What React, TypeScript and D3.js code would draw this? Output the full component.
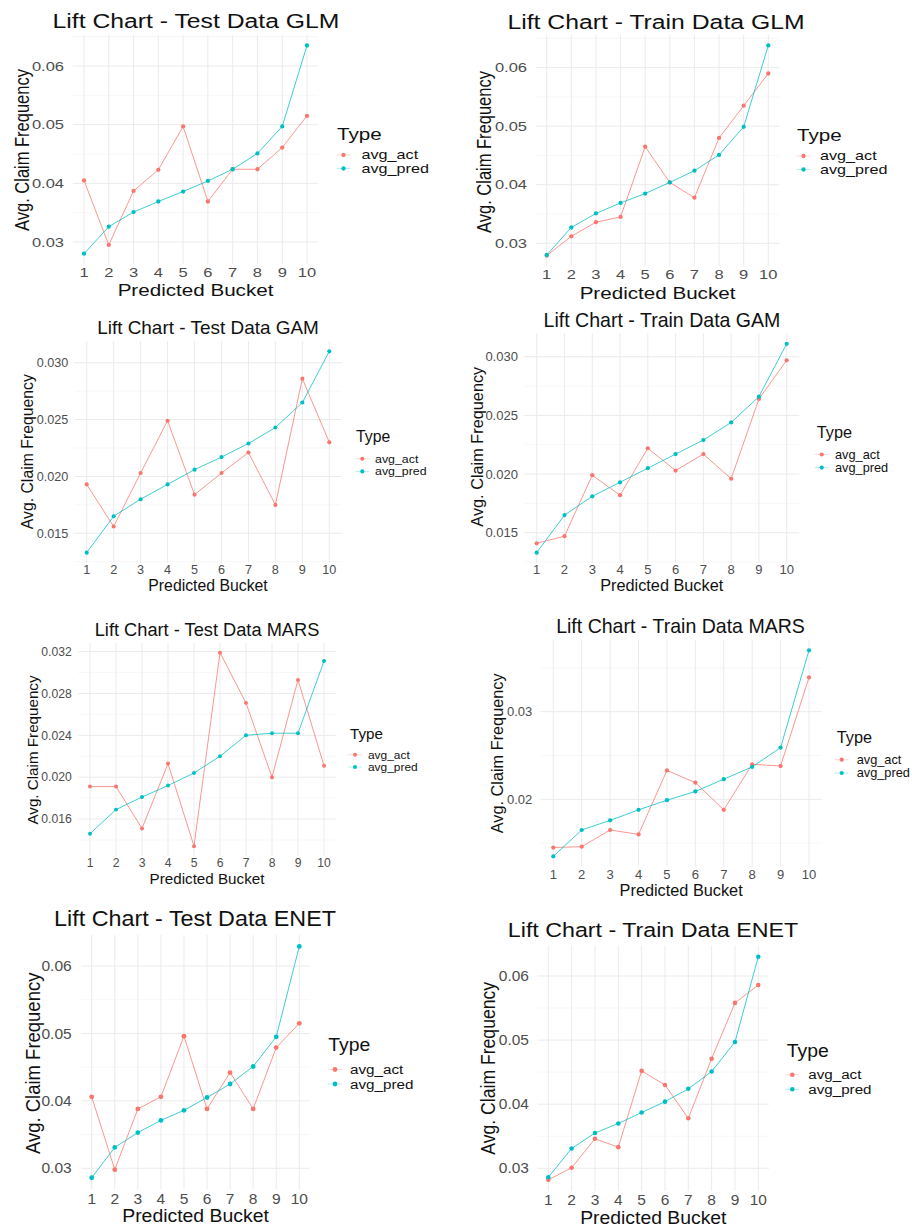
import React from 'react';
import * as d3 from 'd3';

const buckets = [1, 2, 3, 4, 5, 6, 7, 8, 9, 10];
const seriesNames = ['avg_act', 'avg_pred'];
const seriesColors = ['#F8766D', '#00BFC4'];

const testGlmAct = [0.0405, 0.0295, 0.0387, 0.0423, 0.0497, 0.0369, 0.0424, 0.0424, 0.0461, 0.0515];
const testGlmPred = [0.0280, 0.0326, 0.0351, 0.0369, 0.0386, 0.0404, 0.0424, 0.0451, 0.0497, 0.0635];
const trainGlmAct = [0.0279, 0.0312, 0.0336, 0.0345, 0.0465, 0.0404, 0.0378, 0.0480, 0.0535, 0.0590];
const trainGlmPred = [0.0280, 0.0327, 0.0351, 0.0369, 0.0385, 0.0404, 0.0424, 0.0451, 0.0499, 0.0638];
const testGamAct = [0.0193, 0.0156, 0.0203, 0.0249, 0.0184, 0.0203, 0.0221, 0.0175, 0.0286, 0.0230];
const testGamPred = [0.0133, 0.0165, 0.0180, 0.0193, 0.0206, 0.0217, 0.0229, 0.0243, 0.0265, 0.0310];
const trainGamAct = [0.0141, 0.0147, 0.0199, 0.0182, 0.0222, 0.0203, 0.0217, 0.0196, 0.0264, 0.0297];
const trainGamPred = [0.0133, 0.0165, 0.0181, 0.0193, 0.0205, 0.0217, 0.0229, 0.0244, 0.0266, 0.0311];
const testMarsAct = [0.0191, 0.0191, 0.0151, 0.0213, 0.0134, 0.0319, 0.0271, 0.0200, 0.0293, 0.0211];
const testMarsPred = [0.0146, 0.0169, 0.0181, 0.0192, 0.0204, 0.0220, 0.0240, 0.0242, 0.0242, 0.0311];
const trainMarsAct = [0.0145, 0.0146, 0.0165, 0.0160, 0.0233, 0.0219, 0.0188, 0.0240, 0.0238, 0.0339];
const trainMarsPred = [0.0135, 0.0165, 0.0176, 0.0188, 0.0199, 0.0209, 0.0223, 0.0237, 0.0259, 0.0370];
const testEnetAct = [0.0406, 0.0298, 0.0388, 0.0406, 0.0496, 0.0388, 0.0442, 0.0388, 0.0479, 0.0515];
const testEnetPred = [0.0286, 0.0331, 0.0353, 0.0371, 0.0386, 0.0405, 0.0425, 0.0451, 0.0495, 0.0629];
const trainEnetAct = [0.0282, 0.0301, 0.0346, 0.0333, 0.0452, 0.0430, 0.0378, 0.0471, 0.0558, 0.0586];
const trainEnetPred = [0.0286, 0.0331, 0.0355, 0.0370, 0.0387, 0.0404, 0.0424, 0.0451, 0.0497, 0.0630];

const ticksGlm = [0.03, 0.04, 0.05, 0.06];
const ticksGam = [0.015, 0.02, 0.025, 0.03];
const ticksMarsTest = [0.016, 0.02, 0.024, 0.028, 0.032];
const ticksMarsTrain = [0.02, 0.03];

const titles = [
  'Lift Chart - Test Data GLM', 'Lift Chart - Train Data GLM',
  'Lift Chart - Test Data GAM', 'Lift Chart - Train Data GAM',
  'Lift Chart - Test Data MARS', 'Lift Chart - Train Data MARS',
  'Lift Chart - Test Data ENET', 'Lift Chart - Train Data ENET',
];

const panelData = [
  { act: testGlmAct, pred: testGlmPred, ticks: ticksGlm, fmt: '.2f' },
  { act: trainGlmAct, pred: trainGlmPred, ticks: ticksGlm, fmt: '.2f' },
  { act: testGamAct, pred: testGamPred, ticks: ticksGam, fmt: '.3f' },
  { act: trainGamAct, pred: trainGamPred, ticks: ticksGam, fmt: '.3f' },
  { act: testMarsAct, pred: testMarsPred, ticks: ticksMarsTest, fmt: '.3f' },
  { act: trainMarsAct, pred: trainMarsPred, ticks: ticksMarsTrain, fmt: '.2f' },
  { act: testEnetAct, pred: testEnetPred, ticks: ticksGlm, fmt: '.2f' },
  { act: trainEnetAct, pred: trainEnetPred, ticks: ticksGlm, fmt: '.2f' },
];

// layout: x1/x10 = pixel of bucket 1 / 10; top/bottom of panel; text positions
const layouts = [
  { x1: 84, x10: 307, top: 35.1, bottom: 264.1, titleX: 196, titleY: 28, tickRight: 64, xTickY: 272.5, xTitleY: 296, yTitleX: 28.5, yTitleY: 150, legX: 337, legY: 139.5, dotX: 343.5, textX: 361.5, actY: 155, predY: 168.5, base: 16.5, sx: 1.25 },
  { x1: 546.7, x10: 768.3, top: 34.9, bottom: 266.1, titleX: 656, titleY: 29, tickRight: 527, xTickY: 274.5, xTitleY: 298.5, yTitleX: 491, yTitleY: 152, legX: 797, legY: 140.5, dotX: 803.5, textX: 820, actY: 156, predY: 169.5, base: 16.5, sx: 1.25 },
  { x1: 86.7, x10: 329.3, top: 341.3, bottom: 562.7, titleX: 208, titleY: 334.3, tickRight: 68.3, xTickY: 569.7, xTitleY: 591, yTitleX: 33, yTitleY: 451.7, legX: 356, legY: 441.7, dotX: 362.3, textX: 375, actY: 458.8, predY: 471.4, base: 15.8, sx: 1.0 },
  { x1: 536.7, x10: 786.7, top: 333.4, bottom: 563.1, titleX: 662, titleY: 326.7, tickRight: 518, xTickY: 569.7, xTitleY: 591, yTitleX: 483.3, yTitleY: 446.7, legX: 816.7, legY: 438.3, dotX: 821.7, textX: 835, actY: 454.5, predY: 467.6, base: 16.3, sx: 1.0 },
  { x1: 90, x10: 324, top: 643, bottom: 855.9, titleX: 207, titleY: 636, tickRight: 71.7, xTickY: 862.8, xTitleY: 884.3, yTitleX: 38.3, yTitleY: 750, legX: 350, legY: 739, dotX: 355, textX: 368, actY: 754.8, predY: 767, base: 15.2, sx: 1.0 },
  { x1: 553.3, x10: 809, top: 640, bottom: 866.6, titleX: 680.5, titleY: 632.7, tickRight: 532.3, xTickY: 874.5, xTitleY: 896, yTitleX: 503.3, yTitleY: 753.3, legX: 836.7, legY: 742.7, dotX: 841.7, textX: 856.7, actY: 759.7, predY: 773, base: 16.3, sx: 1.0 },
  { x1: 91.7, x10: 299.3, top: 934.9, bottom: 1189.3, titleX: 195, titleY: 926, tickRight: 71.7, xTickY: 1199, xTitleY: 1222.3, yTitleX: 40, yTitleY: 1063.3, legX: 328.3, legY: 1051, dotX: 335, textX: 350, actY: 1069.5, predY: 1084, base: 18.5, sx: 1.05 },
  { x1: 548.3, x10: 758.3, top: 945.6, bottom: 1191, titleX: 653, titleY: 936.7, tickRight: 529, xTickY: 1200.3, xTitleY: 1223.5, yTitleX: 495, yTitleY: 1068.3, legX: 786.7, legY: 1056.7, dotX: 792.3, textX: 808.3, actY: 1074.7, predY: 1089.3, base: 17.6, sx: 1.1 },
];

const FONT = '"Liberation Sans", Arial, Helvetica, sans-serif';

function STxt(props: { x: number; y: number; sx: number; size: number; anchor?: string; fill?: string; children: any; dy?: string }) {
  const { x, y, sx, size, anchor = 'start', fill = '#000', children, dy } = props;
  return (
    <text transform={`translate(${x},${y}) scale(${sx},1)`} fontSize={size} textAnchor={anchor} fill={fill} fontFamily={FONT} dy={dy}>
      {children}
    </text>
  );
}

function Panel({ idx }: { idx: number }) {
  const d = panelData[idx];
  const L = layouts[idx];
  const step = (L.x10 - L.x1) / 9;
  const left = L.x1 - 0.45 * step;
  const right = L.x10 + 0.45 * step;
  const x = d3.scaleLinear().domain([0.55, 10.45]).range([left, right]);
  const all = [...d.act, ...d.pred];
  const mn = d3.min(all) as number;
  const mx = d3.max(all) as number;
  const pad = (mx - mn) * 0.05;
  const y = d3.scaleLinear().domain([mn - pad, mx + pad]).range([L.bottom, L.top]);
  const fmt = d3.format(d.fmt);
  const tstep = d.ticks.length > 1 ? d.ticks[1] - d.ticks[0] : 0.01;
  const minor: number[] = [];
  const cand = [d.ticks[0] - tstep / 2, ...d.ticks.slice(0, -1).map((t) => t + tstep / 2), d.ticks[d.ticks.length - 1] + tstep / 2];
  cand.forEach((v) => { if (v >= y.domain()[0] && v <= y.domain()[1]) minor.push(v); });
  const line = d3.line<number>().x((_, i) => x(buckets[i])).y((v) => y(v));
  const series = [d.act, d.pred];
  const tickSize = L.base * 0.8;
  const legSize = L.base * 0.74;
  const pr = L.base * 0.13;
  return (
    <g>
      {minor.map((v, i) => (
        <line key={'mn' + i} x1={left} x2={right} y1={y(v)} y2={y(v)} stroke="#F2F2F2" strokeWidth={0.6} />
      ))}
      {d.ticks.map((v, i) => (
        <line key={'mj' + i} x1={left} x2={right} y1={y(v)} y2={y(v)} stroke="#EBEBEB" strokeWidth={1} />
      ))}
      {buckets.map((b) => (
        <line key={'vx' + b} x1={x(b)} x2={x(b)} y1={L.top} y2={L.bottom} stroke="#EBEBEB" strokeWidth={1} />
      ))}
      {series.map((s, si) => (
        <path key={'ln' + si} d={line(s) || ''} fill="none" stroke={seriesColors[si]} strokeWidth={0.9} strokeOpacity={0.85} />
      ))}
      {series.map((s, si) =>
        s.map((v, i) => <circle key={'pt' + si + '-' + i} cx={x(buckets[i])} cy={y(v)} r={pr} fill={seriesColors[si]} />)
      )}
      {d.ticks.map((v, i) => (
        <STxt key={'yt' + i} x={L.tickRight} y={y(v)} sx={L.sx} size={tickSize} anchor="end" fill="#4D4D4D" dy="0.35em">{fmt(v)}</STxt>
      ))}
      {buckets.map((b) => (
        <STxt key={'xt' + b} x={x(b)} y={L.xTickY} sx={L.sx} size={tickSize} anchor="middle" fill="#4D4D4D" dy="0.35em">{String(b)}</STxt>
      ))}
      <STxt x={L.titleX} y={L.titleY} sx={L.sx} size={L.base * 1.2} anchor="middle" fill="#111">{titles[idx]}</STxt>
      <STxt x={(left + right) / 2} y={L.xTitleY} sx={L.sx} size={L.base} anchor="middle" fill="#111">Predicted Bucket</STxt>
      <text transform={`translate(${L.yTitleX},${L.yTitleY}) rotate(-90) scale(1,${L.sx})`} fontSize={L.base} textAnchor="middle" fill="#111" fontFamily={FONT}>
        Avg. Claim Frequency
      </text>
      <STxt x={L.legX} y={L.legY} sx={L.sx} size={L.base} fill="#111">Type</STxt>
      {seriesNames.map((n, si) => {
        const cy = si === 0 ? L.actY : L.predY;
        return (
          <g key={'lg' + si}>
            <line x1={L.dotX - 7} x2={L.dotX + 7} y1={cy} y2={cy} stroke={seriesColors[si]} strokeWidth={0.8} strokeOpacity={0.35} />
            <circle cx={L.dotX} cy={cy} r={pr} fill={seriesColors[si]} />
            <STxt x={L.textX} y={cy} sx={L.sx * 1.06} size={legSize} fill="#111" dy="0.35em">{n}</STxt>
          </g>
        );
      })}
    </g>
  );
}

export default function App() {
  return (
    <svg width={912} height={1226} style={{ position: 'absolute', left: 0, top: 0, background: '#fff' }}>
      <rect x={0} y={0} width={912} height={1226} fill="#fff" />
      {titles.map((_, i) => (
        <Panel key={i} idx={i} />
      ))}
    </svg>
  );
}
